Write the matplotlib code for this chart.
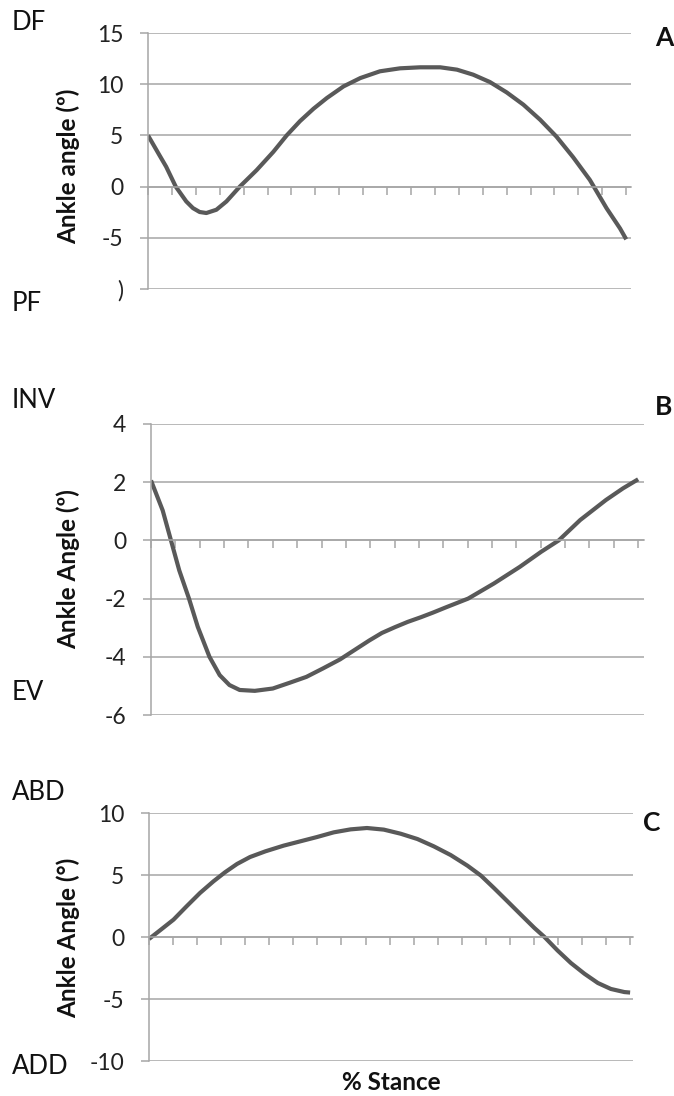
import matplotlib
matplotlib.use("Agg")
import matplotlib.pyplot as plt

plt.rcParams['font.family'] = ['Lato', 'DejaVu Sans']

# --- data (x = % stance) ---
stance_a = [0, 2.4, 3.8, 5.8, 8.0, 9.4, 10.8, 12.2, 14.3, 16.4, 19.2, 22.7, 26.2,
            29.0, 31.8, 34.6, 37.4, 40.9, 44.4, 48.5, 52.7, 56.9, 61.1, 64.6, 68.0,
            71.5, 75.0, 78.5, 82.0, 85.4, 88.9, 92.4, 95.9, 98.7, 100]
angle_a = [5.0, 3.06, 1.94, 0.0, -1.45, -2.1, -2.48, -2.58, -2.26, -1.45, 0.0, 1.6,
           3.39, 5.0, 6.4, 7.6, 8.65, 9.79, 10.6, 11.26, 11.55, 11.65, 11.65,
           11.42, 10.93, 10.21, 9.2, 8.0, 6.53, 4.89, 2.87, 0.65, -2.12, -4.08, -5.15]

stance_b = [0, 2.4, 4.1, 5.8, 7.8, 9.6, 12.0, 14.1, 16.1, 18.2, 21.3, 25.0, 28.5,
            31.9, 35.3, 38.8, 44.8, 47.4, 50.1, 52.7, 55.4, 57.9, 60.7, 65.1, 70.4,
            75.7, 80.1, 83.7, 88.1, 93.4, 96.9, 100]
angle_b = [2.06, 1.03, 0.0, -1.03, -2.0, -2.97, -4.0, -4.63, -4.97, -5.14, -5.17,
           -5.09, -4.89, -4.69, -4.4, -4.09, -3.44, -3.18, -2.98, -2.8, -2.64,
           -2.48, -2.29, -2.0, -1.48, -0.91, -0.39, 0.0, 0.7, 1.39, 1.79, 2.1]

stance_c = [0, 2.3, 5.1, 7.8, 10.6, 13.4, 15.8, 18.3, 21.0, 24.2, 28.0, 31.5, 34.9,
            38.4, 41.9, 45.3, 48.8, 52.3, 55.8, 59.2, 62.7, 66.2, 69.0, 71.7, 74.5,
            77.3, 80.1, 82.2, 84.9, 87.7, 90.5, 93.3, 96.0, 98.8, 100]
angle_c = [-0.16, 0.54, 1.4, 2.47, 3.55, 4.49, 5.22, 5.89, 6.45, 6.91, 7.37, 7.72,
           8.06, 8.44, 8.68, 8.79, 8.66, 8.33, 7.9, 7.31, 6.61, 5.75, 4.95, 3.95,
           2.88, 1.8, 0.73, 0.0, -1.08, -2.1, -2.96, -3.71, -4.19, -4.44, -4.48]

W, H = 674, 1096
GRID = '#a6a6a6'
LINE = '#595959'
INK = '#111111'

fig = plt.figure(figsize=(W / 100, H / 100), dpi=100)


def px_axes(left, right, top, bottom):
    return fig.add_axes([left / W, 1 - bottom / H, (right - left) / W, (bottom - top) / H])


def ftext(x, y, s, **kw):
    fig.text(x / W, 1 - y / H, s, **kw)


def make_panel(box, xmax, x, y, yticks, ylabels, ylabel, ylab_y, side, letter, letter_pos):
    ax = px_axes(*box)
    ax.plot(x, y, color=LINE, lw=3.0, solid_joinstyle='round', solid_capstyle='butt')
    ax.set_xlim(0, xmax)
    ax.set_ylim(yticks[0], yticks[-1])
    ax.set_yticks(yticks)
    ax.set_yticklabels(ylabels, fontsize=16.5, color='#222222')
    ax.yaxis.grid(True, color=GRID, lw=1.1)
    ax.set_axisbelow(True)
    for s in ['top', 'right']:
        ax.spines[s].set_visible(False)
    ax.spines['left'].set_color(GRID)
    ax.spines['left'].set_linewidth(1.1)
    ax.spines['bottom'].set_position(('data', 0))
    ax.spines['bottom'].set_color(GRID)
    ax.spines['bottom'].set_linewidth(1.1)
    ax.set_xticks(range(0, 101, 5))
    ax.tick_params(axis='x', direction='out', length=5.8, width=1.1, color=GRID,
                   labelbottom=False)
    ax.tick_params(axis='y', direction='out', length=5.8, width=1.1, color=GRID, pad=12)
    ftext(68, ylab_y, ylabel, rotation=90, ha='center', va='center',
          fontsize=17.5, fontweight='bold', color=INK)
    for name, yy in side:
        ftext(12, yy, name, ha='left', va='center', fontsize=18.5, color=INK)
    ftext(letter_pos[0], letter_pos[1], letter, ha='left', va='center',
          fontsize=19, fontweight='bold', color=INK)
    return ax


make_panel((148, 631, 33, 289), 101.0, stance_a, angle_a,
           [-10, -5, 0, 5, 10, 15], [')', '-5', '0', '5', '10', '15'],
           'Ankle angle (º)', 166, [('DF', 22), ('PF', 303)], 'A', (655, 38))

make_panel((151, 644, 424, 715), 101.2, stance_b, angle_b,
           [-6, -4, -2, 0, 2, 4], ['-6', '-4', '-2', '0', '2', '4'],
           'Ankle Angle (º)', 569, [('INV', 401), ('EV', 693)], 'B', (655, 407))

make_panel((149, 633, 813, 1061), 100.6, stance_c, angle_c,
           [-10, -5, 0, 5, 10], ['-10', '-5', '0', '5', '10'],
           'Ankle Angle (°)', 938, [('ABD', 793), ('ADD', 1067)], 'C', (643, 823))

ftext(391, 1083, '% Stance', ha='center', va='center', fontsize=17.5,
      fontweight='bold', color=INK)

fig.savefig('out.png', dpi=100)
